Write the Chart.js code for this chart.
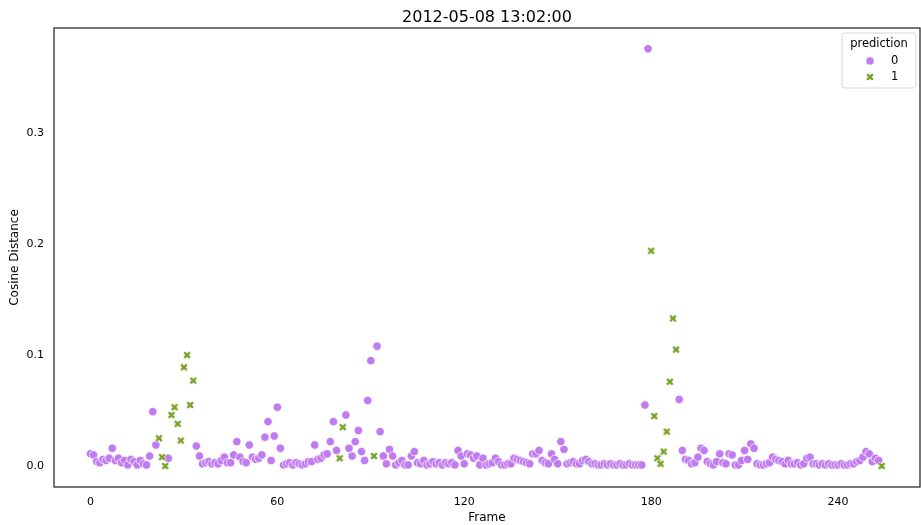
<!DOCTYPE html>
<html>
<head>
<meta charset="utf-8">
<title>Cosine distance per frame</title>
<script src="https://cdn.jsdelivr.net/npm/chart.js@4.4.0/dist/chart.umd.min.js"></script>
<style>
    html, body { margin: 0; padding: 0; background: #fff; }
    #wrap { width: 921px; height: 525px; }
</style>
</head>
<body>
<div id="wrap"><canvas id="distChart"></canvas></div>
<script>
const chartTitle = '2012-05-08 13:02:00';

// cosine distance of each frame to the previous one, index = frame number
const cosineDistance = [
    0.011, 0.010, 0.004, 0.003, 0.006, 0.005, 0.007, 0.016, 0.005, 0.007,   // 0
    0.003, 0.005, 0.001, 0.006, 0.004, 0.001, 0.005, 0.002, 0.001, 0.009,   // 10
    0.049, 0.019, 0.025, 0.008, 0.000, 0.007, 0.046, 0.053, 0.038, 0.023,   // 20
    0.089, 0.100, 0.055, 0.077, 0.018, 0.009, 0.002, 0.003, 0.004, 0.002,   // 30
    0.003, 0.002, 0.005, 0.008, 0.003, 0.003, 0.010, 0.022, 0.008, 0.004,   // 40
    0.003, 0.019, 0.008, 0.006, 0.007, 0.010, 0.026, 0.040, 0.005, 0.027,   // 50
    0.053, 0.016, 0.001, 0.002, 0.003, 0.001, 0.003, 0.002, 0.001, 0.002,   // 60
    0.004, 0.004, 0.019, 0.006, 0.007, 0.010, 0.011, 0.022, 0.040, 0.014,   // 70
    0.007, 0.035, 0.046, 0.016, 0.009, 0.022, 0.032, 0.013, 0.005, 0.059,   // 80
    0.095, 0.009, 0.108, 0.031, 0.009, 0.002, 0.015, 0.009, 0.001, 0.003,   // 90
    0.005, 0.001, 0.001, 0.009, 0.013, 0.003, 0.002, 0.005, 0.001, 0.002,   // 100
    0.004, 0.002, 0.003, 0.001, 0.003, 0.002, 0.003, 0.001, 0.014, 0.009,   // 110
    0.002, 0.011, 0.010, 0.007, 0.009, 0.001, 0.007, 0.001, 0.002, 0.003,   // 120
    0.007, 0.004, 0.001, 0.001, 0.002, 0.002, 0.007, 0.006, 0.005, 0.004,   // 130
    0.003, 0.002, 0.011, 0.011, 0.014, 0.005, 0.003, 0.002, 0.011, 0.006,   // 140
    0.002, 0.022, 0.015, 0.002, 0.003, 0.004, 0.002, 0.002, 0.005, 0.006,   // 150
    0.004, 0.002, 0.002, 0.001, 0.001, 0.002, 0.001, 0.002, 0.001, 0.001,   // 160
    0.002, 0.001, 0.001, 0.002, 0.001, 0.001, 0.001, 0.001, 0.055, 0.376,   // 170
    0.194, 0.045, 0.007, 0.002, 0.013, 0.031, 0.076, 0.133, 0.105, 0.060,   // 180
    0.014, 0.006, 0.005, 0.002, 0.003, 0.008, 0.016, 0.014, 0.004, 0.002,   // 190
    0.001, 0.004, 0.011, 0.003, 0.002, 0.011, 0.010, 0.001, 0.001, 0.005,   // 200
    0.014, 0.006, 0.020, 0.016, 0.002, 0.001, 0.001, 0.002, 0.003, 0.008,   // 210
    0.006, 0.005, 0.004, 0.002, 0.005, 0.002, 0.002, 0.003, 0.001, 0.002,   // 220
    0.007, 0.008, 0.002, 0.002, 0.001, 0.002, 0.001, 0.002, 0.001, 0.001,   // 230
    0.001, 0.002, 0.001, 0.001, 0.002, 0.002, 0.004, 0.005, 0.008, 0.013,   // 240
    0.011, 0.004, 0.007, 0.005, 0.000                                       // 250
];

// frames the model labelled as prediction = 1
const flaggedFrames = [22, 23, 24, 26, 27, 28, 29, 30, 31, 32, 33, 80, 81, 91,
                       180, 181, 182, 183, 184, 185, 186, 187, 188, 254];

const xTicks = [0, 60, 120, 180, 240];
const yTicks = [0, 0.1, 0.2, 0.3];

const purple = '#c07bf0';
const green = '#78a52a';
const font = '"DejaVu Sans", "Liberation Sans", sans-serif';

// split points by predicted class
const class0 = [], class1 = [];
cosineDistance.forEach((d, frame) => {
    (flaggedFrames.includes(frame) ? class1 : class0).push({ x: frame, y: d });
});

// filled "X" marker with a thin white edge
function makeXMarker(size, color) {
    const c = document.createElement('canvas');
    c.width = c.height = 12;
    const g = c.getContext('2d');
    const pts = [[-1, -3], [1, -3], [1, -1], [3, -1], [3, 1], [1, 1],
                 [1, 3], [-1, 3], [-1, 1], [-3, 1], [-3, -1], [-1, -1]];
    g.translate(6, 6);
    g.rotate(Math.PI / 4);
    g.beginPath();
    pts.forEach(([px, py], i) => {
        const x = px / 6 * size, y = py / 6 * size;
        i ? g.lineTo(x, y) : g.moveTo(x, y);
    });
    g.closePath();
    g.fillStyle = color;
    g.fill();
    g.strokeStyle = '#fff';
    g.lineWidth = 0.6;
    g.stroke();
    return c;
}
const xMarker = makeXMarker(8.6, green);

// title, axes frame and the in-plot legend
const decorations = {
    id: 'decorations',
    afterDraw(chart) {
        const { ctx, chartArea: a } = chart;
        ctx.save();

        ctx.strokeStyle = '#262626';
        ctx.lineWidth = 1.25;
        ctx.strokeRect(a.left, a.top, a.right - a.left, a.bottom - a.top);

        ctx.fillStyle = '#000';
        ctx.font = '16px ' + font;
        ctx.textAlign = 'center';
        ctx.textBaseline = 'alphabetic';
        ctx.fillText(chartTitle, (a.left + a.right) / 2, a.top - 6);

        // legend box
        const w = 74, h = 55;
        const lx = a.right - 4 - w, ly = a.top + 5;
        ctx.beginPath();
        ctx.roundRect(lx, ly, w, h, 3);
        ctx.fillStyle = 'rgba(255,255,255,0.8)';
        ctx.fill();
        ctx.strokeStyle = '#d6d6d6';
        ctx.lineWidth = 1;
        ctx.stroke();

        ctx.fillStyle = '#000';
        ctx.font = '11.5px ' + font;
        ctx.textBaseline = 'middle';
        ctx.fillText('prediction', lx + w / 2, ly + 11);

        ctx.textAlign = 'left';
        const mx = lx + 28;
        ctx.beginPath();
        ctx.arc(mx, ly + 28, 4.1, 0, Math.PI * 2);
        ctx.fillStyle = purple;
        ctx.fill();
        ctx.strokeStyle = '#fff';
        ctx.lineWidth = 0.7;
        ctx.stroke();
        ctx.drawImage(xMarker, mx - 6, ly + 44 - 6);

        ctx.fillStyle = '#000';
        ctx.fillText('0', lx + 49, ly + 28);
        ctx.fillText('1', lx + 49, ly + 44);

        ctx.restore();
    }
};

new Chart(document.getElementById('distChart'), {
    type: 'scatter',
    data: {
        datasets: [
            {
                label: '1',
                data: class1,
                pointStyle: xMarker,
                pointRadius: 4,
                pointHoverRadius: 4
            },
            {
                label: '0',
                data: class0,
                pointStyle: 'circle',
                pointRadius: 4.2,
                pointHoverRadius: 4.2,
                backgroundColor: purple,
                borderColor: '#fff',
                borderWidth: 0.7
            }
        ]
    },
    options: {
        responsive: true,
        maintainAspectRatio: false,
        devicePixelRatio: 1,
        animation: false,
        events: [],
        layout: {
            autoPadding: false,
            padding: { top: 28, right: 1, left: 0, bottom: 0 }
        },
        plugins: {
            legend: { display: false },
            tooltip: { enabled: false }
        },
        scales: {
            x: {
                type: 'linear',
                min: -11.7,
                max: 266.3,
                grid: { display: false, drawTicks: false },
                border: { display: false },
                afterBuildTicks: scale => { scale.ticks = xTicks.map(v => ({ value: v })); },
                afterFit: scale => {
                    scale.height = 38;
                    scale.paddingLeft = 0;
                    scale.paddingRight = 0;
                },
                ticks: {
                    color: '#000',
                    font: { family: font, size: 11 },
                    padding: 9,
                    maxRotation: 0
                },
                title: {
                    display: true,
                    text: 'Frame',
                    color: '#000',
                    font: { family: font, size: 12 },
                    padding: { top: 0, bottom: 0 }
                }
            },
            y: {
                type: 'linear',
                min: -0.0189,
                max: 0.3948,
                grid: { display: false, drawTicks: false },
                border: { display: false },
                afterBuildTicks: scale => { scale.ticks = yTicks.map(v => ({ value: v })); },
                afterFit: scale => {
                    scale.width = 54;
                    scale.paddingTop = 0;
                    scale.paddingBottom = 0;
                },
                ticks: {
                    color: '#000',
                    font: { family: font, size: 11 },
                    padding: 10,
                    callback: v => v.toFixed(1)
                },
                title: {
                    display: true,
                    text: 'Cosine Distance',
                    color: '#000',
                    font: { family: font, size: 12 },
                    padding: { top: 8, bottom: 0 }
                }
            }
        }
    },
    plugins: [decorations]
});
</script>
</body>
</html>
